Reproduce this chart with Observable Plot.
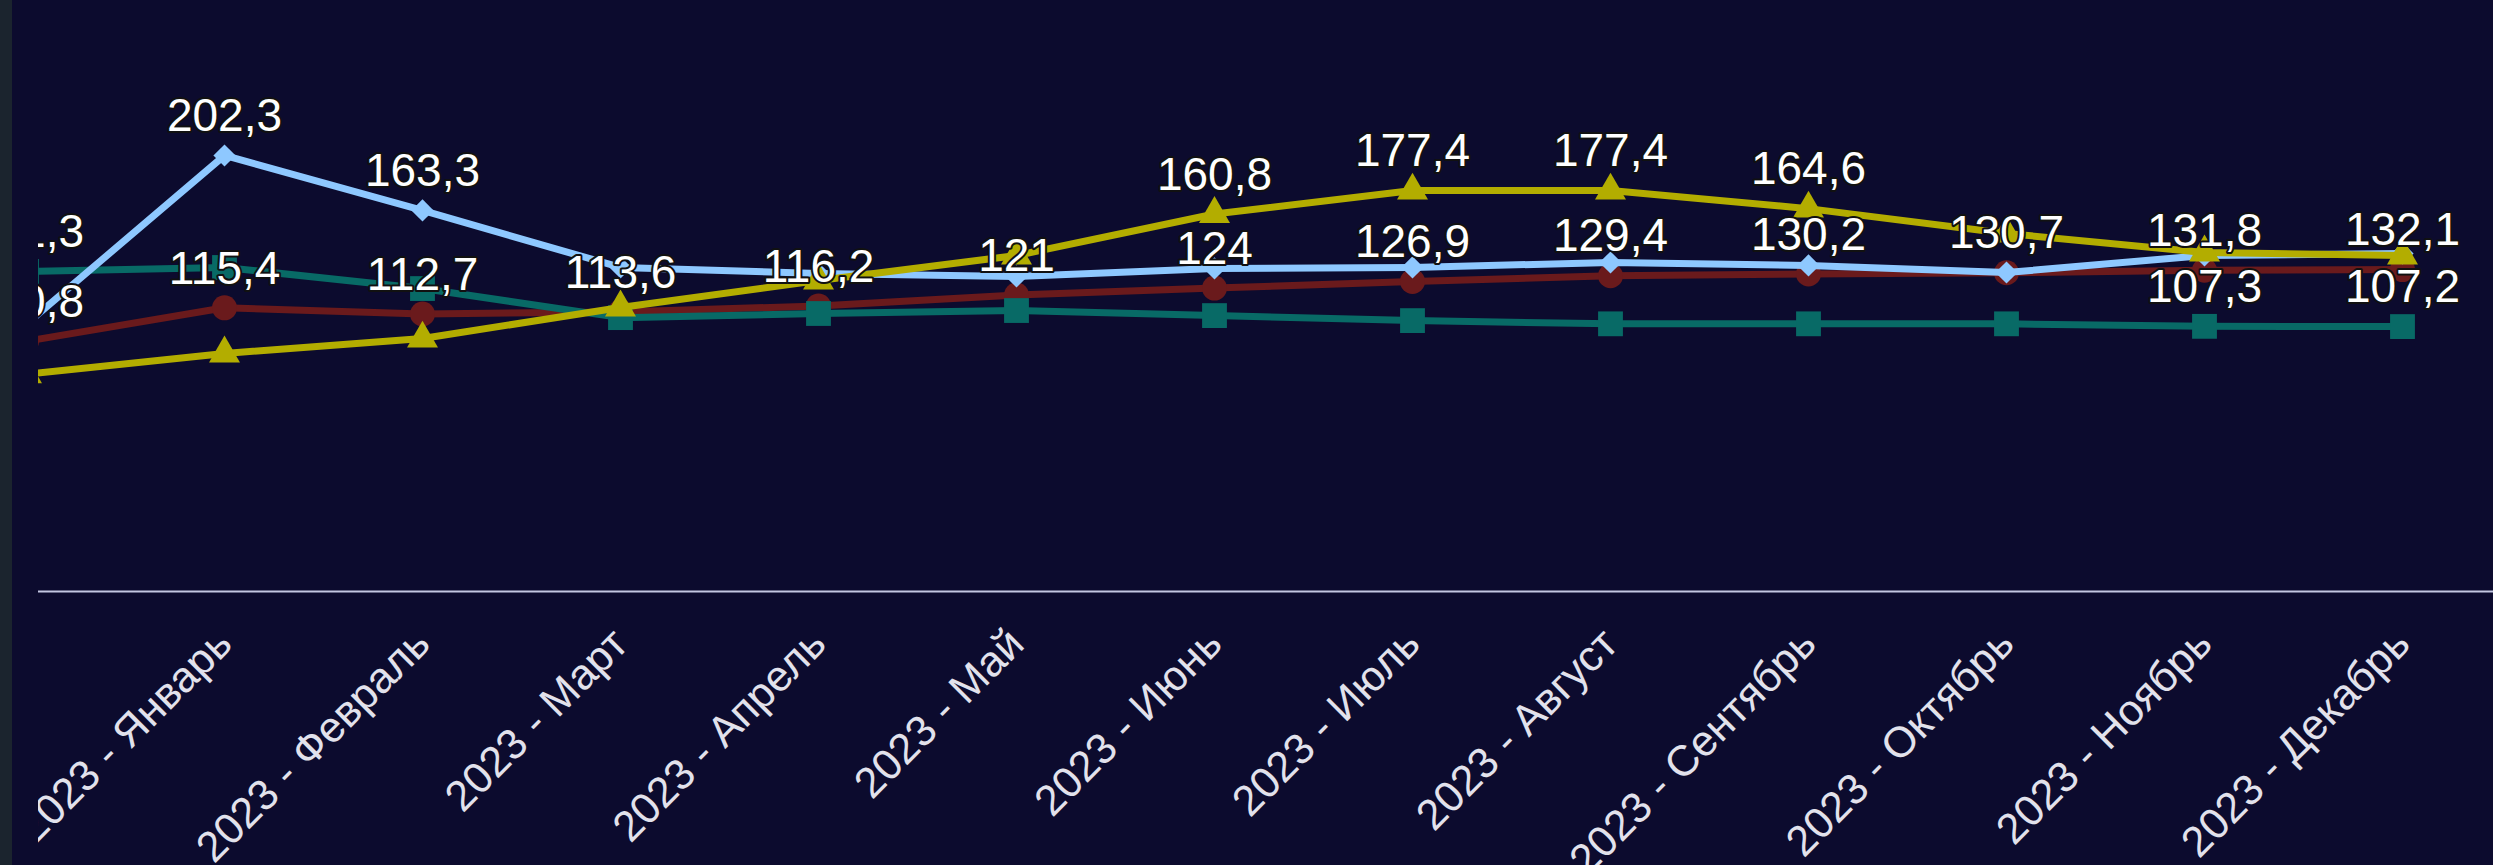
<!DOCTYPE html>
<html>
<head>
<meta charset="utf-8">
<script src="https://cdn.jsdelivr.net/npm/d3@7"></script>
<script src="https://cdn.jsdelivr.net/npm/@observablehq/plot@0.6"></script>
<style>
  html, body { margin: 0; padding: 0; }
  body { width: 2493px; height: 865px; background: #0c0b2e; overflow: hidden; position: relative; font-family: "Liberation Sans", Arial, sans-serif; }
  #strip { position: absolute; left: 0; top: 0; width: 12px; height: 865px; background: #1b242e; }
  #clip { position: absolute; left: 38px; top: 0; width: 2455px; height: 865px; overflow: hidden; }
  #chart { margin-left: -38px; }
</style>
</head>
<body>
<div id="strip"></div>
<div id="clip"><div id="chart"></div></div>
<script>
// Categories (the first one is scrolled out of view on the left)
const months = ["2022 - Декабрь", "2023 - Январь", "2023 - Февраль", "2023 - Март", "2023 - Апрель", "2023 - Май",
  "2023 - Июнь", "2023 - Июль", "2023 - Август", "2023 - Сентябрь", "2023 - Октябрь", "2023 - Ноябрь", "2023 - Декабрь"];

// Primary axis series
const valuesBlue   = [82.8, 202.3, 163.3, 122.9, 118.6, 116.5, 122.2, 122.9, 126.4, 124.3, 119.3, 131.4, 132.8];
const valuesYellow = [47.2, 61.9, 72.5, 94.5, 113.6, 131.4, 160.8, 177.4, 177.4, 164.6, 147.0, 133.5, 131.4];
// Secondary axis series
const valuesMaroon = [100.8, 115.4, 112.7, 113.6, 116.2, 121, 124, 126.9, 129.4, 130.2, 130.7, 131.8, 132.1];
const valuesTeal   = [131.3, 133.0, 123.8, 111.1, 112.9, 114.2, 112.0, 109.8, 108.4, 108.4, 108.4, 107.3, 107.2];

// Months whose data label is visible, per series
const labelsBlue   = ["2023 - Январь", "2023 - Февраль"];
const labelsYellow = ["2023 - Июнь", "2023 - Июль", "2023 - Август", "2023 - Сентябрь"];
const labelsMaroon = months;
const labelsTeal   = ["2022 - Декабрь", "2023 - Ноябрь", "2023 - Декабрь"];

// Axis domains (primary and secondary value axes)
const primaryDomain = [-106.9, 312.2];
const secondaryDomain = [-8.5, 249.6];
const toPrimary = d3.scaleLinear(secondaryDomain, primaryDomain);

const series = [
  {values: valuesMaroon, labels: labelsMaroon, secondary: true,  color: "#6a1a1c", symbol: "circle",   r: 12.5},
  {values: valuesTeal,   labels: labelsTeal,   secondary: true,  color: "#086a66", symbol: "square",   r: 14},
  {values: valuesBlue,   labels: labelsBlue,   secondary: false, color: "#8ec8ff", symbol: "diamond2", r: 10},
  {values: valuesYellow, labels: labelsYellow, secondary: false, color: "#b3ad00", symbol: "triangle", r: 11.5}
];

const fmt = v => String(v).replace(".", ",");

const marks = [
  Plot.ruleY([primaryDomain[0]], {stroke: "#c4c7e2", strokeWidth: 2}),
  Plot.axisX({tickRotate: -45, tickSize: 0, tickPadding: 45, fontSize: 43, fill: "#e2e2ec", label: null})
];
for (const s of series) {
  const rows = months.map((m, i) => ({month: m, raw: s.values[i], y: s.secondary ? toPrimary(s.values[i]) : s.values[i]}));
  marks.push(Plot.line(rows, {x: "month", y: "y", stroke: s.color, strokeWidth: 7}));
  marks.push(Plot.dot(rows, {x: "month", y: "y", fill: s.color, stroke: "none", symbol: s.symbol, r: s.r}));
}
for (const s of series) {
  const rows = months.map((m, i) => ({month: m, raw: s.values[i], y: s.secondary ? toPrimary(s.values[i]) : s.values[i]}))
    .filter(d => s.labels.includes(d.month));
  marks.push(Plot.text(rows, {x: "month", y: "y", text: d => fmt(d.raw), dy: -39, fontSize: 46,
    fill: "#ffffff", stroke: "#111111", strokeWidth: 4, paintOrder: "stroke"}));
}

const chart = Plot.plot({
  width: 2493,
  height: 865,
  marginTop: 0,
  marginBottom: 274,
  marginLeft: 0,
  marginRight: 0,
  style: {background: "transparent", color: "#e6e6f0", fontFamily: "'Liberation Sans', Arial, sans-serif", overflow: "visible"},
  x: {type: "point", domain: months, range: [22.5, 2405], padding: 0, axis: null},
  y: {domain: primaryDomain, axis: null},
  marks
});
document.getElementById("chart").appendChild(chart);
</script>
</body>
</html>
